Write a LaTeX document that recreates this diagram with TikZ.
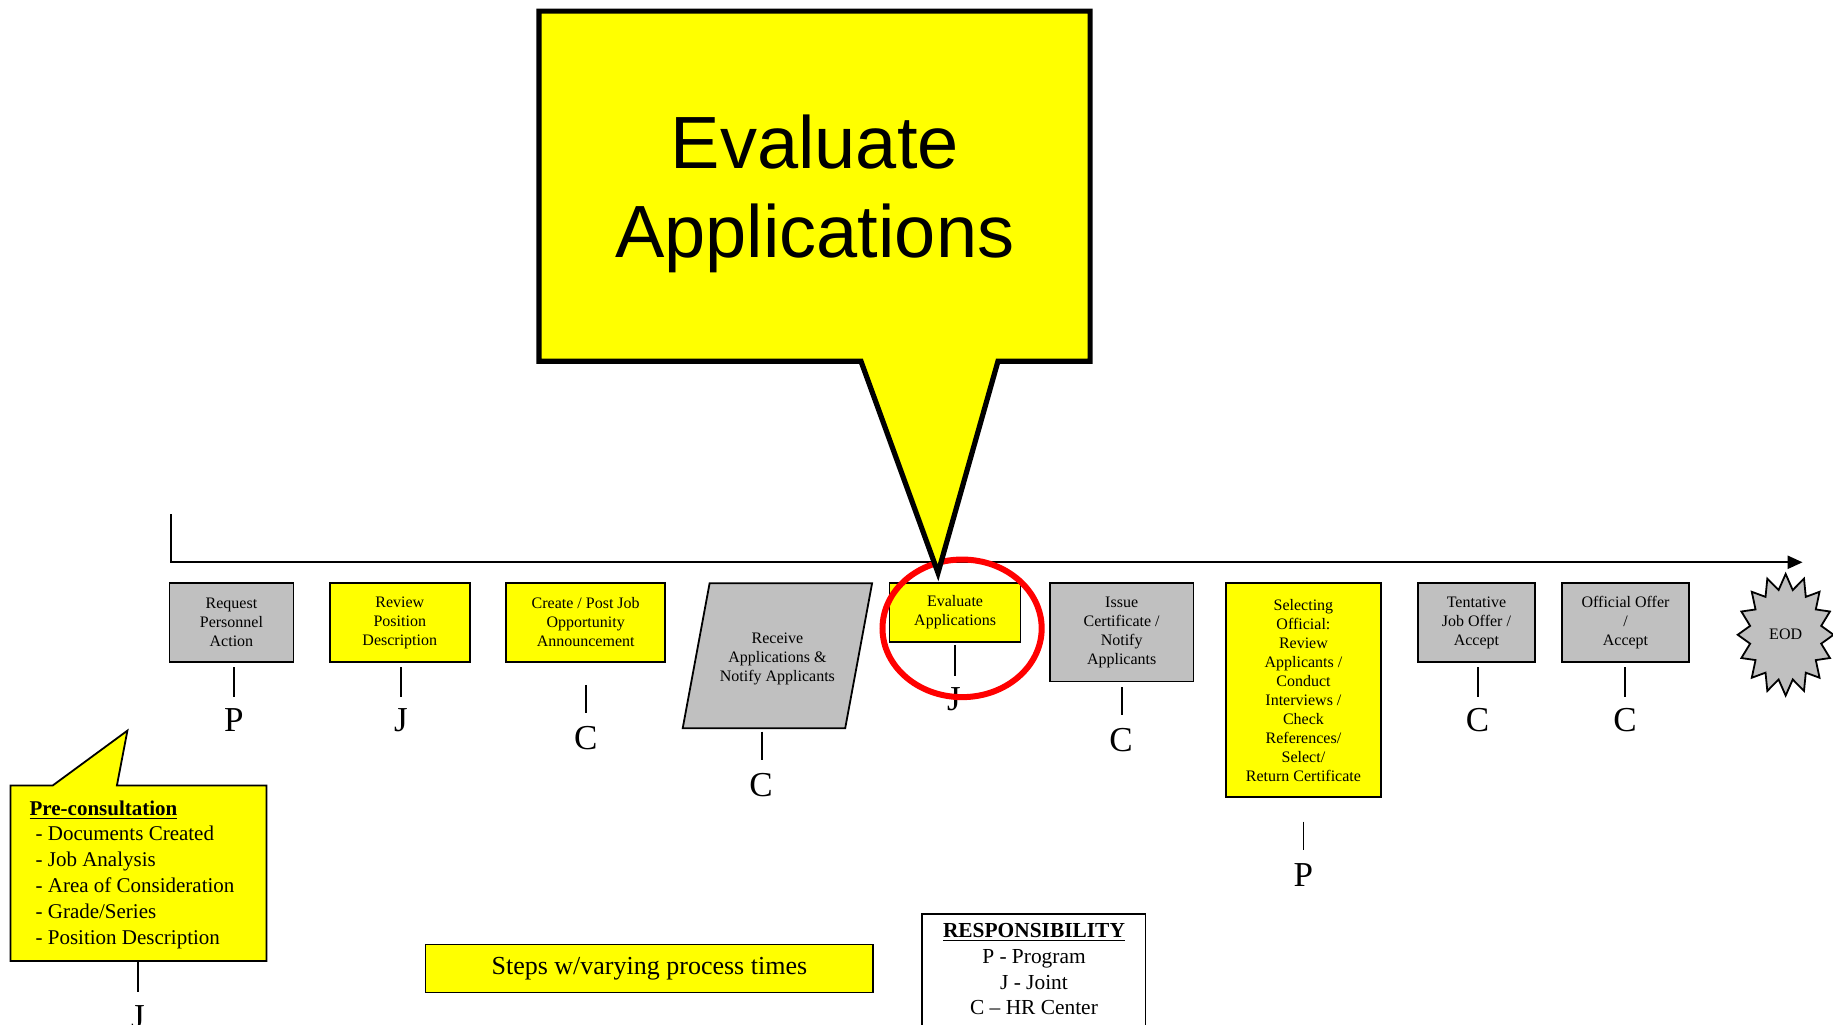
\documentclass[tikz,border=0pt]{standalone}
\usepackage{fontspec}
\setmainfont{Liberation Serif}
\newfontfamily\calloutfont{Liberation Sans}
\usetikzlibrary{arrows.meta,calc}
\definecolor{procyellow}{HTML}{FFFF00}
\definecolor{procgray}{HTML}{C0C0C0}
\definecolor{markred}{HTML}{FF0000}

\begin{document}
\begin{tikzpicture}[x=0.5845pt,y=-0.5845pt,
  stepbox/.style={draw, line width=0.9pt, inner sep=0pt, align=center,
    font=\fontsize{8}{9.5}\selectfont},
  yellowbox/.style={stepbox, fill=procyellow},
  graybox/.style={stepbox, fill=procgray},
  resp/.style={inner sep=0pt, anchor=north, font=\fontsize{17.5}{20}\selectfont},
  tick/.style={line width=0.9pt},
  axisline/.style={line width=1.1pt},
  balloon/.style={draw, fill=procyellow, line join=miter},
]
\useasboundingbox (0,0) rectangle (1568,876);
\clip (0,0) rectangle (1568,876);

% time axis
\coordinate (ax0) at (146,440);
\coordinate (ax1) at (146,481);
\coordinate (ax2) at (1542,481);
\draw[axisline, -{Triangle[length=7.5pt,width=6.5pt]}] (ax0) -- (ax1) -- (ax2);

% process steps
\node[graybox, minimum width=62pt, minimum height=39.2pt] (b1) at (198,532.5)
  {Request\\Personnel\\Action};
\node[yellowbox, minimum width=70.1pt, minimum height=39.2pt] (b2) at (342,532.5)
  {Review\\Position\\Description};
\node[yellowbox, minimum width=79.5pt, minimum height=39.2pt] (b3) at (501,532.5)
  {Create / Post Job\\Opportunity\\Announcement};
\draw[line width=0.9pt, fill=procgray] (607,499) -- (746,499) -- (723,623) -- (584,623) -- cycle;
\node[stepbox, draw=none, minimum width=60pt, minimum height=72.5pt] (b4) at (665,564)
  {Receive\\Applications \&\\Notify Applicants};
\node[yellowbox, minimum width=65.5pt, minimum height=29.2pt] (b5) at (817,524)
  {Evaluate\\Applications};
\node[graybox, minimum width=71.9pt, minimum height=49.1pt] (b6) at (959.5,541)
  {Issue\\Certificate /\\Notify\\Applicants};
\node[yellowbox, minimum width=77.2pt, minimum height=107pt] (b7) at (1115,590.5)
  {Selecting\\Official:\\Review\\Applicants /\\Conduct\\Interviews /\\Check\\References/\\Select/\\Return Certificate};
\node[graybox, minimum width=58.5pt, minimum height=39.2pt] (b8) at (1263,532.5)
  {Tentative\\Job Offer /\\Accept};
\node[graybox, minimum width=63.7pt, minimum height=39.2pt] (b9) at (1390.5,532.5)
  {Official Offer\\/\\Accept};

% end of process
\draw[line width=0.9pt, fill=procgray, line join=miter]
  plot[samples at={0,...,31}, variable=\k]
  ({1527.5+ifthenelse(mod(\k,2)==0,41,31)*cos(\k*11.25)},
   {543+ifthenelse(mod(\k,2)==0,52,39)*sin(\k*11.25)}) -- cycle;
\node[font=\fontsize{8}{9.5}\selectfont, inner sep=0pt] (eod) at (1527.5,543) {EOD};

% responsibility letters
\node[resp] (l1) at (200,606) {P};
\node[resp] (l2) at (343,606) {J};
\node[resp] (l3) at (501,621) {C};
\node[resp] (l4) at (651,661) {C};
\node[resp] (l5) at (816,588) {J};
\node[resp] (l6) at (959,623) {C};
\node[resp] (l7) at (1115,738) {P};
\node[resp] (l8) at (1264,606) {C};
\node[resp] (l9) at (1390,606) {C};

\draw[tick] ($(b1.south)+(2,4)$) -- ($(l1.north)+(0,-10)$);
\draw[tick] ($(b2.south)+(1,4)$) -- ($(l2.north)+(0,-10)$);
\draw[tick] ($(b3.south)+(0,19)$) -- ($(l3.north)+(0,-11)$);
\draw[tick] ($(b4.south)+(-13,-1)$) -- ($(l4.north)+(1,-11)$);
\draw[tick] ($(b5.south)+(0,2)$) -- ($(l5.north)+(1,-10)$);
\draw[tick] ($(b6.south)+(0.5,4)$) -- ($(l6.north)+(1,-11)$);
\draw[tick] ($(b7.south)+(0,20)$) -- ($(l7.north)+(0,-11)$);
\draw[tick] ($(b8.south)+(1,4)$) -- ($(l8.north)+(0,-10)$);
\draw[tick] ($(b9.south)+(-0.5,4)$) -- ($(l9.north)+(0,-10)$);

% pre-consultation note
\draw[balloon, line width=0.9pt]
  (9,672) -- (45,672) -- (109,625) -- (100,672) -- (228,672)
  -- (228,822) -- (9,822) -- cycle;
\node[anchor=north west, inner sep=0pt, align=left,
  font=\fontsize{10.5}{12.9}\selectfont] (pretext) at (25,684.5)
  {\underline{\textbf{Pre-consultation}}\\
   \hspace*{3pt}- Documents Created\\
   \hspace*{3pt}- Job Analysis\\
   \hspace*{3pt}- Area of Consideration\\
   \hspace*{3pt}- Grade/Series\\
   \hspace*{3pt}- Position Description};
\coordinate (prebot) at (118,822);
\node[resp] (lpre) at (118,860) {J};
\draw[tick] (prebot) -- ($(lpre.north)+(0,-11)$);

% legend boxes
\node[yellowbox, minimum width=223.9pt, minimum height=24pt,
  font=\fontsize{13}{15}\selectfont] (steps) at (555.5,828.5) {Steps w/varying process times};
\node[draw, line width=0.9pt, anchor=north, minimum width=111.6pt, minimum height=80pt,
  inner sep=0pt] (respframe) at (884.5,781) {};
\node[anchor=north, inner sep=0pt, align=center,
  font=\fontsize{10.7}{12.9}\selectfont] (resptext) at (884.5,789.5)
  {\underline{\textbf{RESPONSIBILITY}}\\P - Program\\J - Joint\\C – HR Center};

% highlight of the current step
\draw[markred, line width=3pt] (823,537.5) ellipse [x radius=39.8pt, y radius=34.4pt];

% headline balloon
\draw[balloon, line width=2.6pt]
  (461,9.5) -- (932.5,9.5) -- (932.5,309) -- (853.7,309) -- (802.4,490)
  -- (736.5,309) -- (461,309) -- cycle;
\node[inner sep=0pt, align=center,
  font=\calloutfont\fontsize{37}{44.5}\selectfont] (headline) at (697,166)
  {Evaluate\\Applications};
\end{tikzpicture}
\end{document}
